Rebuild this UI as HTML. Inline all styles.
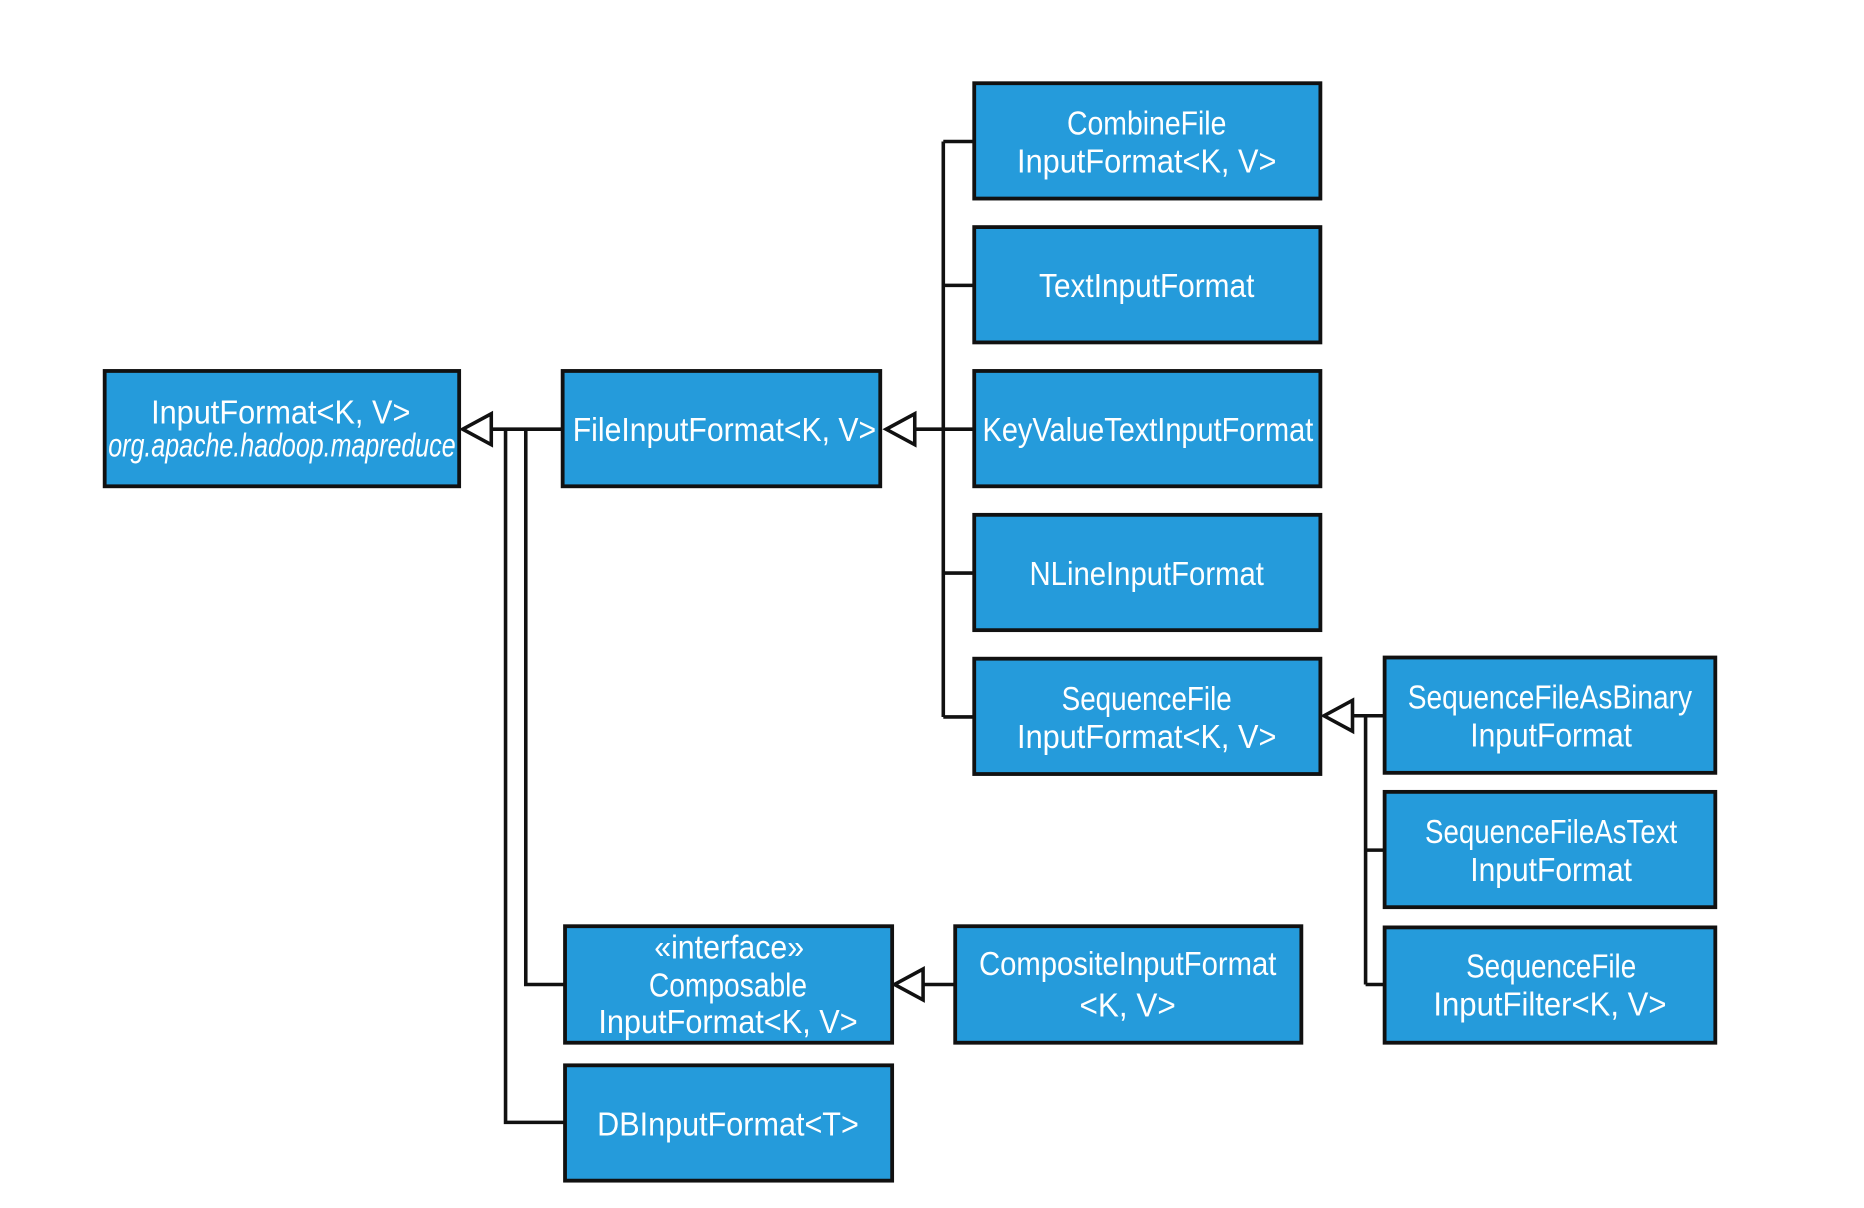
<!DOCTYPE html>
<html><head><meta charset="utf-8"><style>
html,body{margin:0;padding:0;background:#fff;}
svg{display:block;}
text{font-family:"Liberation Sans Narrow","Liberation Sans",sans-serif;fill:#fff;font-size:28px;text-anchor:middle;}
.b{fill:#259bdb;stroke:#111;stroke-width:3.2;}
.l{fill:none;stroke:#111;stroke-width:3;}
.a{fill:#fff;stroke:#111;stroke-width:3;stroke-linejoin:miter;}
</style></head><body>
<svg width="1864" height="1208" viewBox="0 0 1567 1016" preserveAspectRatio="none" xmlns="http://www.w3.org/2000/svg">
<path class="l" d="M413 361H473 M425 361V944H475 M442 361V828H475"/>
<path class="l" d="M770 361H819 M793 119V603 M793 119H819 M793 240H819 M793 482H819 M793 603H819"/>
<path class="l" d="M1138 602H1164 M1148 602V828 M1148 715H1164 M1148 828H1164"/>
<path class="l" d="M776 828H803"/>
<polygon class="a" points="389,361 413,348 413,374"/>
<polygon class="a" points="745,361 769,348 769,374"/>
<polygon class="a" points="1113,602 1137,589 1137,615"/>
<polygon class="a" points="752,828 776,815 776,841"/>
<rect class="b" x="88" y="312" width="298" height="97"/>
<rect class="b" x="473" y="312" width="267" height="97"/>
<rect class="b" x="819" y="70" width="291" height="97"/>
<rect class="b" x="819" y="191" width="291" height="97"/>
<rect class="b" x="819" y="312" width="291" height="97"/>
<rect class="b" x="819" y="433" width="291" height="97"/>
<rect class="b" x="819" y="554" width="291" height="97"/>
<rect class="b" x="1164" y="553" width="278" height="97"/>
<rect class="b" x="1164" y="666" width="278" height="97"/>
<rect class="b" x="1164" y="780" width="278" height="97"/>
<rect class="b" x="475" y="779" width="275" height="98"/>
<rect class="b" x="803" y="779" width="291" height="98"/>
<rect class="b" x="475" y="896" width="275" height="97"/>
<text x="236" y="356" textLength="218" lengthAdjust="spacingAndGlyphs">InputFormat&lt;K, V&gt;</text>
<text x="237" y="384" font-style="italic" font-size="25" textLength="292" lengthAdjust="spacingAndGlyphs">org.apache.hadoop.mapreduce</text>
<text x="609" y="371" textLength="255" lengthAdjust="spacingAndGlyphs">FileInputFormat&lt;K, V&gt;</text>
<text x="964" y="113" textLength="134" lengthAdjust="spacingAndGlyphs">CombineFile</text>
<text x="964" y="145" textLength="218" lengthAdjust="spacingAndGlyphs">InputFormat&lt;K, V&gt;</text>
<text x="964" y="250" textLength="181" lengthAdjust="spacingAndGlyphs">TextInputFormat</text>
<text x="965" y="371" textLength="278" lengthAdjust="spacingAndGlyphs">KeyValueTextInputFormat</text>
<text x="964" y="492" textLength="197" lengthAdjust="spacingAndGlyphs">NLineInputFormat</text>
<text x="964" y="597" textLength="143" lengthAdjust="spacingAndGlyphs">SequenceFile</text>
<text x="964" y="629" textLength="218" lengthAdjust="spacingAndGlyphs">InputFormat&lt;K, V&gt;</text>
<text x="1303" y="596" textLength="239" lengthAdjust="spacingAndGlyphs">SequenceFileAsBinary</text>
<text x="1304" y="628" textLength="136" lengthAdjust="spacingAndGlyphs">InputFormat</text>
<text x="1304" y="709" textLength="212" lengthAdjust="spacingAndGlyphs">SequenceFileAsText</text>
<text x="1304" y="741" textLength="136" lengthAdjust="spacingAndGlyphs">InputFormat</text>
<text x="1304" y="822" textLength="143" lengthAdjust="spacingAndGlyphs">SequenceFile</text>
<text x="1303" y="854" textLength="196" lengthAdjust="spacingAndGlyphs">InputFilter&lt;K, V&gt;</text>
<text x="613" y="806" textLength="126" lengthAdjust="spacingAndGlyphs">«interface»</text>
<text x="612" y="838" textLength="133" lengthAdjust="spacingAndGlyphs">Composable</text>
<text x="612" y="869" textLength="218" lengthAdjust="spacingAndGlyphs">InputFormat&lt;K, V&gt;</text>
<text x="948" y="820" textLength="250" lengthAdjust="spacingAndGlyphs">CompositeInputFormat</text>
<text x="948" y="855" textLength="81" lengthAdjust="spacingAndGlyphs">&lt;K, V&gt;</text>
<text x="612" y="955" textLength="220" lengthAdjust="spacingAndGlyphs">DBInputFormat&lt;T&gt;</text>
</svg>
</body></html>
